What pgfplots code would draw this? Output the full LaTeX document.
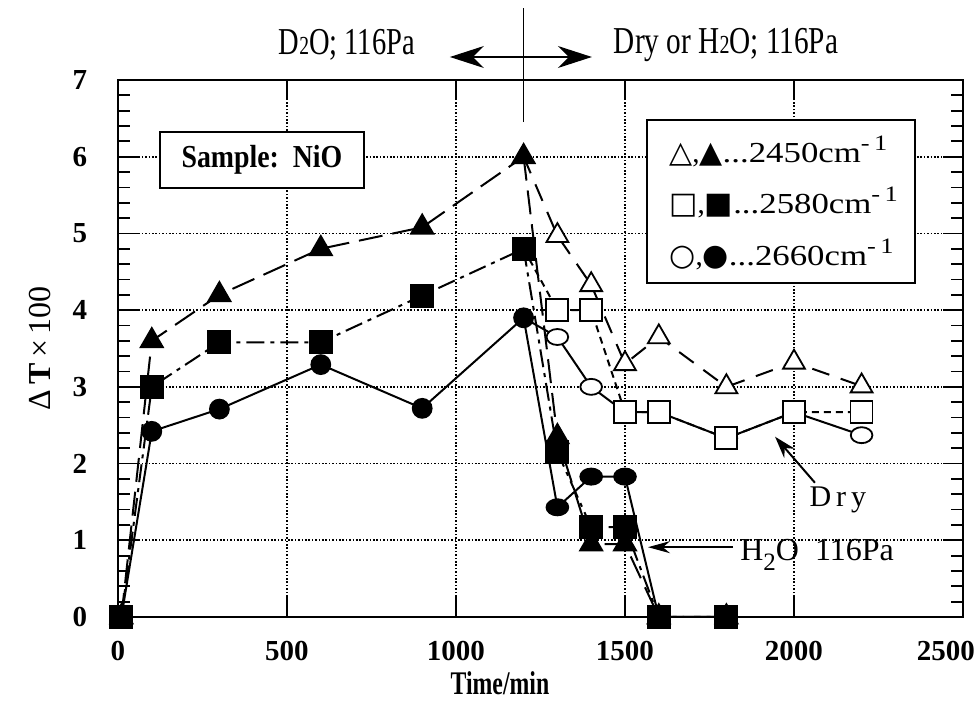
\documentclass[border=0pt]{standalone}
\usepackage{graphicx}
\usepackage{pgfplots}
\pgfplotsset{compat=1.18}
\usepackage{fontspec}
\setmainfont{Liberation Serif}
\newfontfamily\sym{DejaVu Sans}
\usetikzlibrary{arrows.meta}
\newcommand{\fs}[1]{\fontsize{#1}{#1}\selectfont}

\begin{document}
\begin{tikzpicture}
\path[use as bounding box] (-59pt,-42pt) rectangle (429pt,308.5pt);
\begin{axis}[
  scale only axis, width=422.5pt, height=268.5pt,
  xmin=0, xmax=2500, ymin=0, ymax=7,
  xtick={0,500,...,2500}, ytick={0,1,...,7},
  xticklabels={0,500,1000,1500,2000,{\makebox[0pt][c]{\hspace*{-17pt}2500}}},
  minor y tick num=4,
  grid=major,
  major grid style={black, line width=0.85pt, dash pattern=on 0.8pt off 0.9pt},
  axis line style={line width=1.3pt},
  tick style={black, line width=0.9pt},
  major tick length=10pt, minor tick length=6pt,
  clip=false,
  scaled ticks=false,
  /pgf/number format/1000 sep={},
  /pgf/number format/assume math mode=true,
  ticklabel style={font=\bfseries\fs{14.5}},
  xticklabel style={anchor=center, yshift=-17pt},
  yticklabel style={anchor=center, xshift=-19pt},
  xlabel={\scalebox{0.72}[1]{\bfseries Time/min}},
  xlabel style={font=\fs{16.5}, at={(axis description cs:0.452,0)}, anchor=center, yshift=-33pt},
  ylabel={Δ\,\textbf{T}\,×\,100},
  ylabel style={font=\fs{16}, at={(axis description cs:-0.092,0.5)}, anchor=center},
  tri/.style={mark=triangle*, mark size=6.3pt},
  sq/.style={mark=square*, mark size=5.5pt},
  circ/.style={mark=*, mark size=4.7pt},
  every axis plot/.append style={black, line width=1pt},
]
% D2O, 116 Pa
\addplot[circ, mark options={solid}] coordinates {(10,0) (100,2.42) (300,2.71) (600,3.29) (900,2.72) (1200,3.9)};
\addplot[sq, mark options={solid}, dash pattern=on 9pt off 3pt on 2pt off 3pt] coordinates {(10,0) (100,3.0) (300,3.58) (600,3.58) (900,4.19) (1200,4.8)};
\addplot[tri, mark options={solid}, dash pattern=on 12pt off 5pt] coordinates {(10,0) (100,3.6) (300,4.2) (600,4.8) (900,5.08) (1200,6.0)};
% dry
\addplot[circ, mark indices={2,3,4,5,6,7,8}, mark options={solid, line width=0.9pt, fill=white, xscale=1.15, yscale=0.85}] coordinates {(1200,3.9) (1300,3.65) (1400,3.0) (1500,2.67) (1600,2.67) (1800,2.33) (2000,2.67) (2200,2.37)};
\addplot[sq, mark indices={2,3,4,5,6,7,8}, mark options={solid, line width=0.9pt, fill=white}, dash pattern=on 3.5pt off 2.5pt] coordinates {(1200,4.8) (1300,4.0) (1400,4.0) (1500,2.67) (1600,2.67) (1800,2.33) (2000,2.67) (2200,2.67)};
\addplot[tri, mark indices={2,3,4,5,6,7,8}, mark options={solid, line width=0.9pt, fill=white}, dash pattern=on 9pt off 6pt] coordinates {(1200,6.0) (1300,4.97) (1400,4.33) (1500,3.3) (1600,3.65) (1800,3.0) (2000,3.32) (2200,3.01)};
% H2O, 116 Pa
\addplot[circ, mark indices={2,3,4,5,6}, mark options={solid, xscale=1.15, yscale=0.85}] coordinates {(1200,3.9) (1300,1.43) (1400,1.83) (1500,1.83) (1600,0) (1800,0)};
\addplot[sq, mark indices={2,3,4,5,6}, mark options={solid}, dash pattern=on 9pt off 3pt on 2pt off 3pt] coordinates {(1200,4.8) (1300,2.15) (1400,1.17) (1500,1.17) (1600,0) (1800,0)};
\addplot[tri, mark indices={2,3,4,5,6}, mark options={solid}, dash pattern=on 12pt off 5pt] coordinates {(1200,6.0) (1300,2.35) (1400,0.95) (1500,0.95) (1600,0) (1800,0)};

% annotations
\draw[line width=0.5pt] (axis cs:1200,6.45) -- (axis cs:1200,7.94);
\draw[{Stealth[length=17pt,width=11pt]}-{Stealth[length=17pt,width=11pt]}, line width=0.6pt]
  (axis cs:982,7.30) -- (axis cs:1402,7.30);
\node[font=\fs{19}] at (axis cs:677,7.46) {\scalebox{0.75}[1]{D{\fs{13}2}O; 116Pa}};
\node[font=\fs{19}] at (axis cs:1799,7.46) {\scalebox{0.77}[1]{Dry or H{\fs{13}2}O; 116Pa}};
\node[draw, line width=0.9pt, fill=white, minimum width=102pt, minimum height=28pt, font=\bfseries\fs{16}]
  at (axis cs:426,5.96) {\scalebox{0.87}[1]{Sample:\ \ NiO}};
\node[draw, line width=0.9pt, fill=white, minimum width=134pt, minimum height=81.5pt] at (axis cs:1962,5.42) {};
\node[anchor=west, font=\fs{14.5}, inner sep=0pt] at (axis cs:1630,6.07) {{\sym\fs{15}△},{\sym\fs{15}▲}\scalebox{1.2}[1]{...2450cm\raisebox{6pt}{\fs{11}-\,1}}};
\node[anchor=west, font=\fs{14.5}, inner sep=0pt] at (axis cs:1630,5.41) {{\sym\fs{15}□},{\sym\fs{15}■}\scalebox{1.2}[1]{...2580cm\raisebox{6pt}{\fs{11}-\,1}}};
\node[anchor=west, font=\fs{14.5}, inner sep=0pt] at (axis cs:1630,4.72) {{\sym\fs{15}○},{\sym\fs{15}●}\scalebox{1.2}[1]{...2660cm\raisebox{6pt}{\fs{11}-\,1}}};
\draw[-{Stealth[length=11pt,width=7pt]}, line width=1pt] (axis cs:2062,1.75) -- (axis cs:1944,2.35);
\node[font=\fs{15}] at (axis cs:2130,1.52) {D\,r\,y};
\draw[-{Stealth[length=11pt,width=6pt]}, line width=1pt] (axis cs:1820,0.91) -- (axis cs:1568,0.91);
\node[anchor=base west, font=\fs{16}, inner sep=0pt] at (axis cs:1840,0.73) {H\raisebox{-5pt}{\fs{12.5}2}O\ \ 116Pa};
\end{axis}
\end{tikzpicture}
\end{document}
